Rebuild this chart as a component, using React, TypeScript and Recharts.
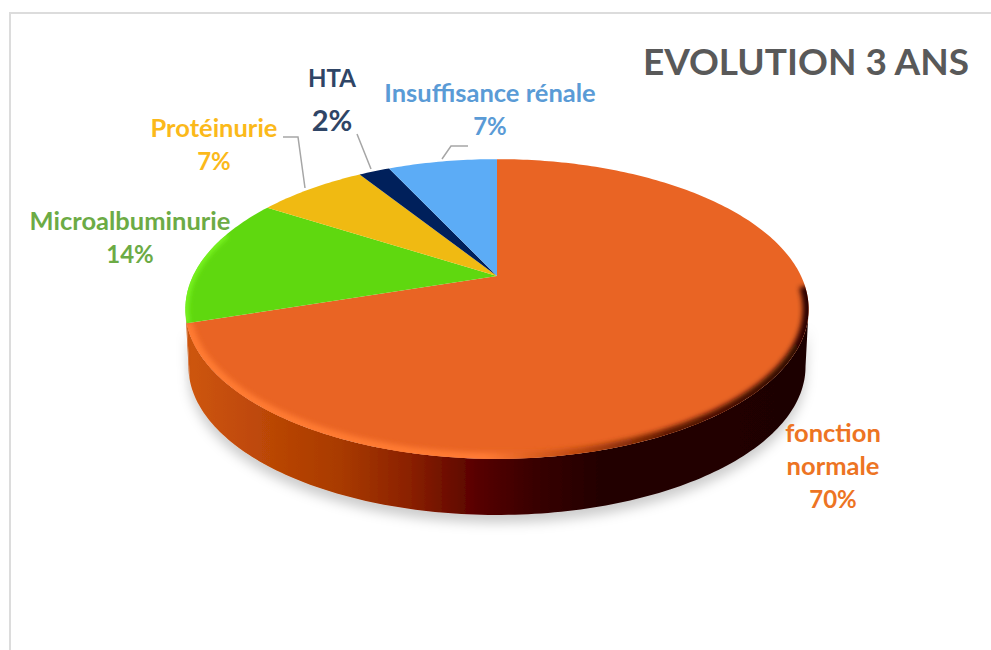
import { Pie, PieChart } from 'recharts';

const names = ['fonction normale', 'Microalbuminurie', 'Protéinurie', 'HTA', 'Insuffisance rénale'];
const values = [70, 14, 7, 2, 7];

const sliceColors = ['#E96424', '#5FD80F', '#F0BA12', '#00205B', '#5CACF6'];
const textColors = ['#ED7423', '#6CAB45', '#FBB91A', '#2F4566', '#5A9BD6'];
const bevels = ['url(#rimGrad)', '#7CF722', 'none', 'none', 'none'];

const labelLines = [['fonction', 'normale'], ['Microalbuminurie'], ['Protéinurie'], ['HTA'], ['Insuffisance rénale']];
const labelX = [833, 130, 214, 332, 490];
const labelY = [442, 230, 137, 87, 102];
const labelStep = [33, 33, 33, 44, 33];
const labelSize = [25.5, 25.5, 25.5, 24, 25.5];
const percentSize = [24, 24, 24, 29, 24];
const leaders = ['', '', '283,137 298,137 305,188', '357,134 371,169', '442,159 451,146 468,146'];

const data = names.map((name, i) => ({ name, value: values[i], fill: sliceColors[i] }));

// the disc is tilted: rim points go through a small perspective projection
const TILT = 0.469;
const PERSP = 0.22;
const DEPTH = 58;
const BOTTOM_SCALE = 0.99;
const FRONT_FROM = 102.7;
const FRONT_TO = 257.3;
const BEVEL_FROM = 94;
const BEVEL_TO = 288;

const rim = (cx: number, cy: number, r: number, deg: number, scale = 1, drop = 0) => {
  const t = (deg * Math.PI) / 180;
  const d = 1 + PERSP * Math.cos(t);
  return {
    x: cx + (scale * r * Math.sin(t)) / d,
    y: cy + drop - (scale * r * TILT * Math.cos(t)) / d,
  };
};

const rimPoints = (cx: number, cy: number, r: number, from: number, to: number, scale = 1, drop = 0) => {
  const count = Math.max(2, Math.ceil(Math.abs(to - from)));
  const out: string[] = [];
  for (let i = 0; i <= count; i++) {
    const p = rim(cx, cy, r, from + ((to - from) * i) / count, scale, drop);
    out.push(`${p.x.toFixed(2)} ${p.y.toFixed(2)}`);
  }
  return out;
};

function WallShape(props: any) {
  const { cx, cy, outerRadius, startAngle, endAngle } = props;
  const from = Math.max(90 - startAngle, FRONT_FROM);
  const to = Math.min(90 - endAngle, FRONT_TO);
  if (to <= from) return <g />;
  const top = rimPoints(cx, cy, outerRadius, from, to);
  const bottom = rimPoints(cx, cy, outerRadius, to, from, BOTTOM_SCALE, DEPTH);
  return <path d={`M${top.join('L')}L${bottom.join('L')}Z`} fill="url(#wallGrad)" filter="url(#wallShadow)" />;
}

function FaceShape(props: any) {
  const { cx, cy, outerRadius, startAngle, endAngle, fill, index } = props;
  const from = 90 - startAngle;
  const to = 90 - endAngle;
  const edge = rimPoints(cx, cy, outerRadius, from, to);
  const face = `M${cx} ${cy}L${edge.join('L')}Z`;
  const bevel = bevels[index];
  const bevelEdge = rimPoints(cx, cy, outerRadius, Math.max(from, BEVEL_FROM), Math.min(to, BEVEL_TO));
  return (
    <g>
      <path d={face} fill={fill} />
      {bevel !== 'none' && (
        <>
          <clipPath id={`face-${index}`}>
            <path d={face} />
          </clipPath>
          <g clipPath={`url(#face-${index})`}>
            <path
              d={`M${bevelEdge.join('L')}`}
              fill="none"
              stroke={bevel}
              strokeWidth={index === 0 ? 12 : 6}
              filter="url(#soft)"
            />
          </g>
        </>
      )}
    </g>
  );
}

function SliceLabel(props: any) {
  const { index, percent } = props;
  const x = labelX[index];
  const step = labelStep[index];
  const lines = labelLines[index];
  const color = textColors[index];
  return (
    <g fontFamily="Lato" fontWeight={700} textAnchor="middle" fill={color}>
      {leaders[index] && <polyline points={leaders[index]} fill="none" stroke="#A6A6A6" strokeWidth={1.5} />}
      {lines.map((line, i) => (
        <text key={line} x={x} y={labelY[index] + i * step} fontSize={labelSize[index]} fill={color}>
          {line}
        </text>
      ))}
      <text x={x} y={labelY[index] + lines.length * step} fontSize={percentSize[index]} fill={color}>
        {`${Math.round(percent * 100)}%`}
      </text>
    </g>
  );
}

export default function App() {
  return (
    <div style={{ position: 'absolute', left: 0, top: 0, width: 991, height: 650, overflow: 'hidden', background: '#fff' }}>
      <div
        style={{
          position: 'absolute',
          left: 9,
          top: 12,
          width: 982,
          height: 638,
          borderTop: '2px solid #DCDCDC',
          borderLeft: '2px solid #DCDCDC',
        }}
      />
      <PieChart width={991} height={650} margin={{ top: 0, right: 0, bottom: 0, left: 0 }} style={{ position: 'absolute', left: 0, top: 0 }}>
        <defs>
          <linearGradient id="wallGrad" gradientUnits="userSpaceOnUse" x1={186} y1={0} x2={810} y2={0}>
            <stop offset="0" stopColor="#CE5610" />
            <stop offset="0.1" stopColor="#C04A08" />
            <stop offset="0.25" stopColor="#A83A00" />
            <stop offset="0.36" stopColor="#8A2000" />
            <stop offset="0.47" stopColor="#560000" />
            <stop offset="0.56" stopColor="#380000" />
            <stop offset="0.66" stopColor="#240000" />
            <stop offset="1" stopColor="#1E0000" />
          </linearGradient>
          <linearGradient id="rimGrad" gradientUnits="userSpaceOnUse" x1={186} y1={0} x2={810} y2={0}>
            <stop offset="0" stopColor="#FF7A30" />
            <stop offset="0.48" stopColor="#FF7A34" />
            <stop offset="0.62" stopColor="#C04A10" />
            <stop offset="0.78" stopColor="#5A1500" />
            <stop offset="1" stopColor="#2A0500" />
          </linearGradient>
          <filter id="soft" x="-10%" y="-10%" width="120%" height="120%">
            <feGaussianBlur stdDeviation="2.5" />
          </filter>
          <filter id="wallShadow" x="-10%" y="-20%" width="120%" height="150%">
            <feDropShadow dx={0} dy={8} stdDeviation={6} floodColor="#000" floodOpacity={0.2} />
          </filter>
        </defs>
        <text x={806} y={75} textAnchor="middle" fontFamily="Lato" fontWeight={700} fontSize={37} fill="#595959">
          EVOLUTION 3 ANS
        </text>
        <Pie
          data={data}
          dataKey="value"
          cx={497}
          cy={276}
          outerRadius={304}
          startAngle={90}
          endAngle={-270}
          stroke="none"
          shape={WallShape}
          label={false}
          labelLine={false}
          isAnimationActive={false}
        />
        <Pie
          data={data}
          dataKey="value"
          cx={497}
          cy={276}
          outerRadius={304}
          startAngle={90}
          endAngle={-270}
          stroke="none"
          shape={FaceShape}
          label={SliceLabel}
          labelLine={false}
          isAnimationActive={false}
        />
      </PieChart>
    </div>
  );
}
